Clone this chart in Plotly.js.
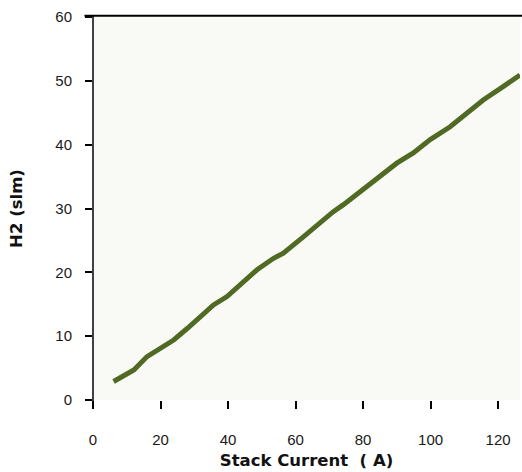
<!DOCTYPE html>
<html>
<head>
<meta charset="utf-8">
<script src="https://cdn.plot.ly/plotly-3.0.1.min.js"></script>
<style>html,body{margin:0;padding:0;background:#fff;}#chart{width:522px;height:472px;}</style>
</head>
<body>
<div id="chart"></div>
<script>
const stackCurrent = [6.1, 9.1, 12.1, 16.0, 20.0, 23.9, 27.9, 31.8, 35.7, 39.7, 43.0, 48.6, 53.5, 56.4, 62.4, 66.3, 71.2, 74.2, 79.1, 83.6, 90.0, 94.9, 99.9, 105.8, 110.7, 115.6, 121.5, 126.5];
const h2Flow = [2.9, 3.8, 4.7, 6.8, 8.1, 9.4, 11.2, 13.1, 14.9, 16.2, 17.8, 20.4, 22.2, 23.0, 25.6, 27.4, 29.5, 30.6, 32.6, 34.4, 37.1, 38.7, 40.8, 42.8, 44.9, 47.0, 49.1, 50.9];
const xTicks = [0, 20, 40, 60, 80, 100, 120];
const yTicks = [0, 10, 20, 30, 40, 50, 60];

const trace = {
  x: stackCurrent, y: h2Flow, type: 'scatter', mode: 'lines',
  line: {color: '#506a24', width: 5}, hoverinfo: 'skip'
};
const layout = {
  width: 522, height: 472,
  margin: {l: 93, r: 2, t: 17, b: 72},
  paper_bgcolor: '#ffffff', plot_bgcolor: '#f9f9f5',
  font: {family: 'Liberation Sans, Arial, sans-serif', color: '#1a1a1a', size: 15},
  showlegend: false,
  xaxis: {
    range: [0, 126.5], tickvals: xTicks, ticktext: xTicks.map(String),
    showgrid: false, zeroline: false, showline: false,
    ticks: 'outside', ticklen: 8, tickwidth: 2, tickcolor: '#000',
    ticklabelstandoff: 18,
    title: {text: '<b>Stack Current&nbsp; ( A)</b>', font: {family: 'DejaVu Sans, sans-serif', size: 16.5, color: '#111'}, standoff: 7}
  },
  yaxis: {
    range: [0, 60], tickvals: yTicks, ticktext: yTicks.map(String),
    showgrid: false, zeroline: false, showline: false,
    ticks: 'outside', ticklen: 7, tickwidth: 2, tickcolor: '#000',
    ticklabelstandoff: 10,
    title: {text: '<b>H2 (slm)</b>', font: {family: 'DejaVu Sans, sans-serif', size: 16.5, color: '#111'}, standoff: 28}
  },
  shapes: [
    {type: 'line', xref: 'paper', yref: 'paper', x0: -0.02, x1: 1.01, y0: 1.003, y1: 1.003, line: {color: '#000', width: 2}},
    {type: 'line', xref: 'paper', yref: 'paper', x0: 0, x1: 0, y0: -0.021, y1: 1.003, line: {color: '#000', width: 1.5}}
  ]
};
Plotly.newPlot('chart', [trace], layout, {displayModeBar: false, staticPlot: true});
</script>
</body>
</html>
